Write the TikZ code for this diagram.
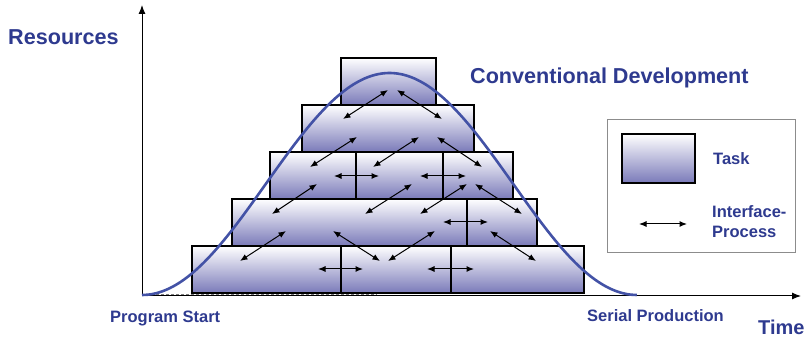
\documentclass[tikz,border=0pt]{standalone}
\usepackage{fontspec}
\setmainfont{Liberation Sans}
\usepackage{tikz}
\usetikzlibrary{arrows.meta}
\definecolor{navy}{HTML}{2E3A8F}
\definecolor{bellblue}{HTML}{4352A6}
\definecolor{lavender}{HTML}{7A7AB9}
\definecolor{frame}{HTML}{8C8C8C}
\tikzset{
  task/.style={draw=black,line width=2.8pt,top color=white,middle color=lavender!30!white,bottom color=lavender,inner sep=0pt,outer sep=0pt,minimum height=47pt},
  iface/.style={{Latex[length=7.5pt,width=6pt]}-{Latex[length=7.5pt,width=6pt]},line width=1pt,draw=black},
  axisline/.style={-{Latex[length=9pt,width=7pt]},line width=1pt,draw=black},
  bell/.style={draw=bellblue,line width=2.6pt},
  bigtxt/.style={font=\fontsize{21.6}{24}\selectfont\bfseries,text=navy,inner sep=0pt,anchor=base west},
  lbl/.style={font=\fontsize{16.5}{19}\selectfont\bfseries,text=navy,inner sep=0pt,anchor=base west},
  legendframe/.style={draw=frame,line width=1pt,inner sep=0pt,outer sep=0pt}
}
\begin{document}
\begin{tikzpicture}[x=1pt,y=-1pt]
  \useasboundingbox (0,0) rectangle (807,339);
  % axes
  \coordinate (origin) at (142,296);
  \coordinate (ytip) at (142,5);
  \coordinate (xtip) at (801,296);
  \draw[axisline] (origin) -- (ytip);
  \draw[axisline] (origin) -- (xtip);
  \draw[dash pattern=on 3pt off 2pt,line width=0.8pt,draw=gray] (156,294.6) -- (377,294.6);
  % tasks, row by row from the top
  \node[task,minimum width=95pt] (t51) at (388.5,81.5) {};
  \node[task,minimum width=172pt] (t41) at (388,128.5) {};
  \node[task,minimum width=86pt] (t31) at (313,175.5) {};
  \node[task,minimum width=87pt] (t32) at (399.5,175.5) {};
  \node[task,minimum width=70pt] (t33) at (478,175.5) {};
  \node[task,minimum width=235pt] (t21) at (349.5,222.5) {};
  \node[task,minimum width=70pt] (t22) at (502,222.5) {};
  \node[task,minimum width=149pt] (t11) at (266.5,269.5) {};
  \node[task,minimum width=110pt] (t12) at (396,269.5) {};
  \node[task,minimum width=133pt] (t13) at (517.5,269.5) {};
  % resource curve
  \draw[bell] plot[domain=0:1,samples=90,smooth] ({142+495*\x},{295-111*(1-cos(360*\x))});
  % interface processes
  \path (343,119) coordinate (a1)  (388,90)  coordinate (b1)
        (397,90)  coordinate (a2)  (442,119) coordinate (b2)
        (310,167) coordinate (a3)  (357,137) coordinate (b3)
        (373,167) coordinate (a4)  (419,137) coordinate (b4)
        (437,137) coordinate (a5)  (482,167) coordinate (b5)
        (334,176) coordinate (a6)  (379,176) coordinate (b6)
        (420,176) coordinate (a7)  (466,176) coordinate (b7)
        (272,214) coordinate (a8)  (317,184) coordinate (b8)
        (365,214) coordinate (a9)  (412,184) coordinate (b9)
        (420,214) coordinate (a10) (467,184) coordinate (b10)
        (475,184) coordinate (a11) (522,214) coordinate (b11)
        (443,222) coordinate (a12) (488,222) coordinate (b12)
        (240,261) coordinate (a13) (286,231) coordinate (b13)
        (333,231) coordinate (a14) (380,261) coordinate (b14)
        (388,261) coordinate (a15) (435,231) coordinate (b15)
        (490,231) coordinate (a16) (536,261) coordinate (b16)
        (318,269) coordinate (a17) (363,269) coordinate (b17)
        (427,269) coordinate (a18) (474,269) coordinate (b18);
  \foreach \i in {1,...,18} \draw[iface] (a\i) -- (b\i);
  % legend
  \node[legendframe,minimum width=188pt,minimum height=133pt] (key) at (701,186.5) {};
  \node[task,minimum width=73pt,minimum height=49pt] (keytask) at (658.5,158.5) {};
  \coordinate (keyl) at (639,224);
  \coordinate (keyr) at (687,224);
  \draw[iface] (keyl) -- (keyr);
  \node[lbl] (tasklbl) at (713,165) {Task};
  \node[lbl] (ifacelbl) at (712,218) {Interface-};
  \node[lbl] (proclbl) at (712,238) {Process};
  % labels
  \node[bigtxt] (resources) at (8,45) {Resources};
  \node[bigtxt] (conv) at (470,84) {Conventional Development};
  \node[lbl] (start) at (110,323) {Program Start};
  \node[lbl] (serial) at (587,322) {Serial Production};
  \node[bigtxt,font=\fontsize{20}{24}\selectfont\bfseries] (time) at (758,335) {Time};
\end{tikzpicture}
\end{document}
